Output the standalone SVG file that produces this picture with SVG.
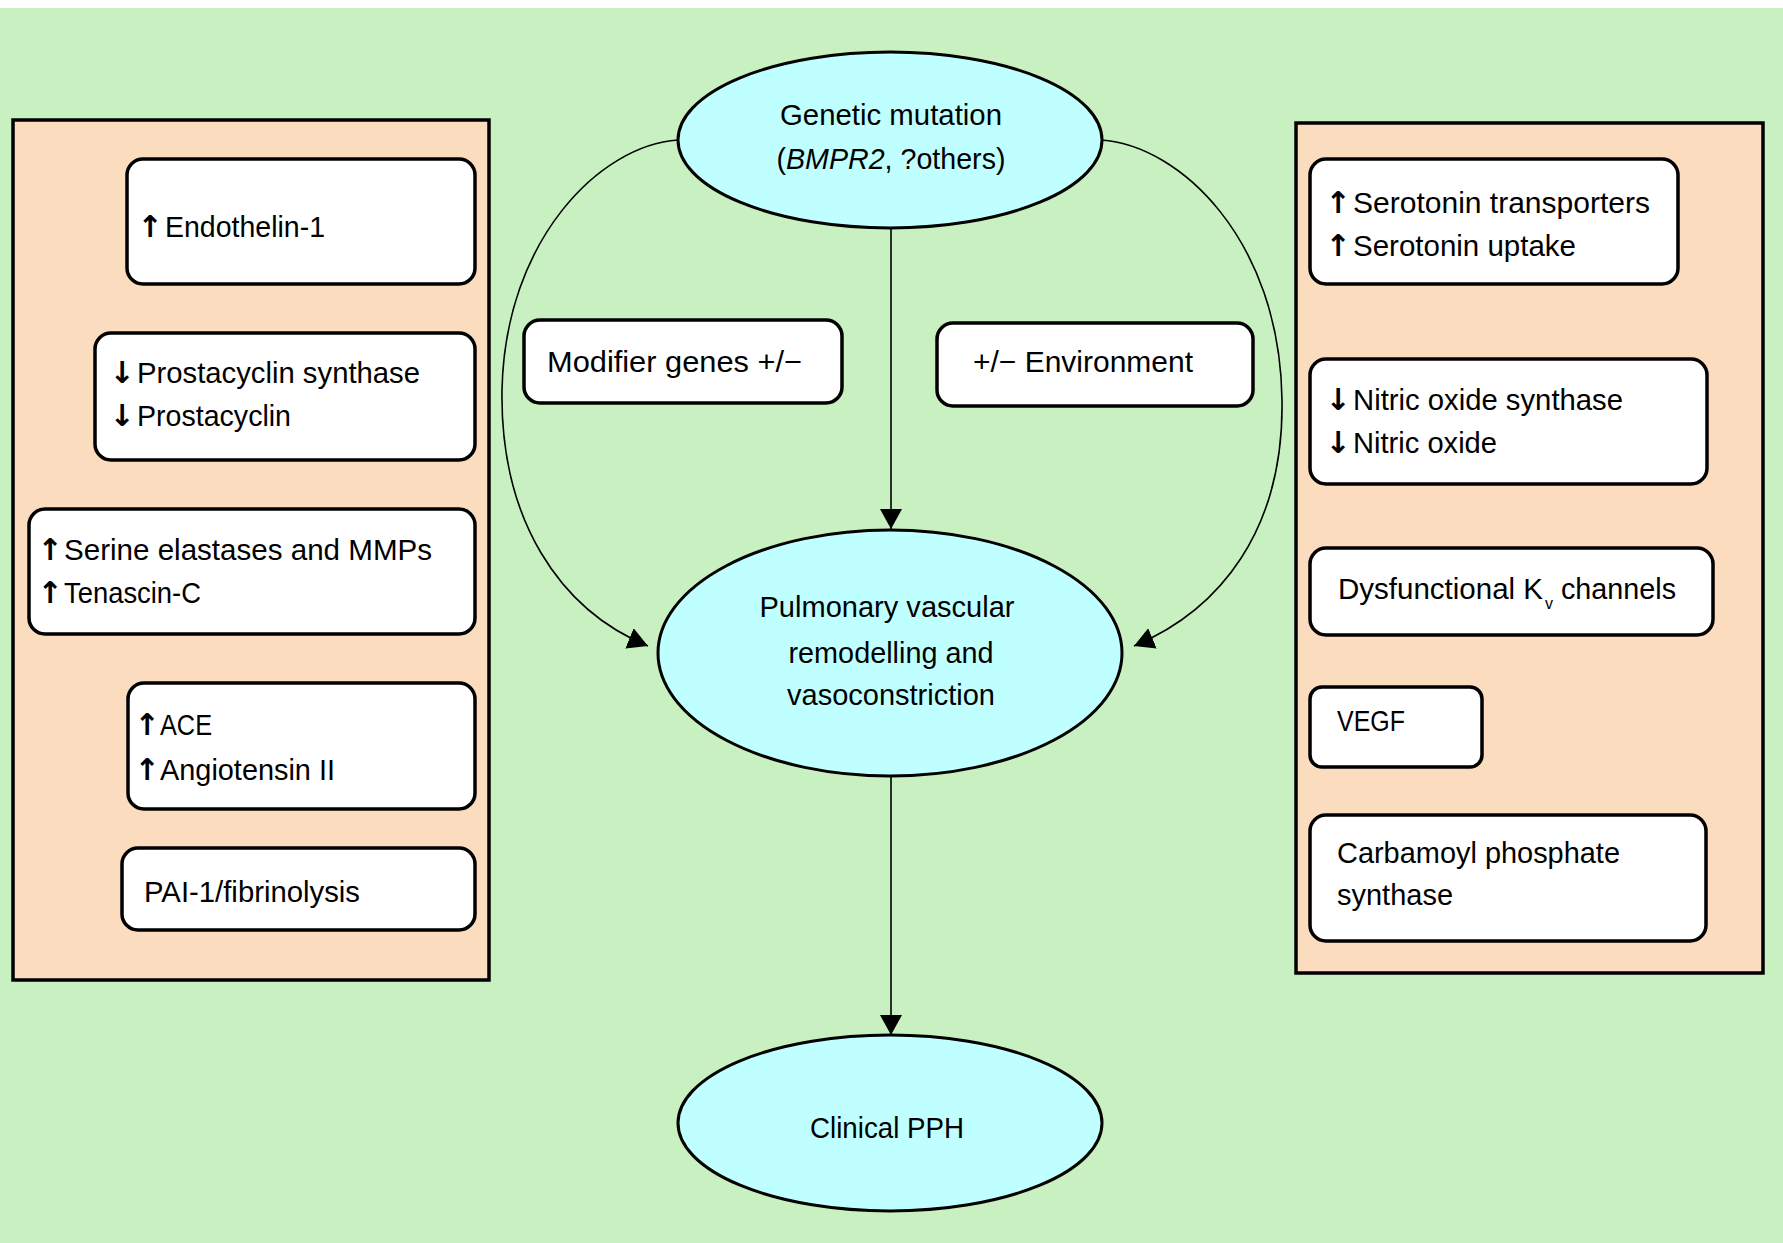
<svg xmlns="http://www.w3.org/2000/svg" width="1783" height="1243" viewBox="0 0 1783 1243">
<style>
.bg{fill:#c8f0c0}
.panel{fill:#fcdcbf;stroke:#000;stroke-width:3.5}
.box{fill:#fff;stroke:#000;stroke-width:3.5}
.ell{fill:#c0ffff;stroke:#000;stroke-width:3}
.conn{fill:none;stroke:#000;stroke-width:1.6}
text{font-family:"Liberation Sans",Arial,sans-serif;font-size:30px;fill:#000}
.mid{text-anchor:middle}
.arr{font-family:"DejaVu Sans","Liberation Sans",sans-serif;font-size:30px;font-weight:bold;text-anchor:middle}
</style>
<defs>
<marker id="ah" markerUnits="userSpaceOnUse" markerWidth="24" markerHeight="24" refX="20" refY="11" orient="auto" viewBox="0 0 24 24">
<path d="M0,0 L20,11 L0,22 Z" fill="#000"/>
</marker>
</defs>
<rect x="0" y="0" width="1783" height="1243" fill="#fff"/>
<rect class="bg" x="0" y="8" width="1783" height="1235"/>

<g id="left-panel">
<rect class="panel" x="13" y="120" width="476" height="860"/>
</g>
<g id="right-panel">
<rect class="panel" x="1296" y="123" width="467" height="850"/>
</g>

<g id="connectors">
<path class="conn" d="M678,140 C600,145 505,240 502,390 C500,520 560,610 648,646" marker-end="url(#ah)"/>
<path class="conn" d="M1101,140 C1180,145 1280,240 1282,400 C1284,530 1220,610 1134,646" marker-end="url(#ah)"/>
<line class="conn" x1="891" y1="228" x2="891" y2="529" marker-end="url(#ah)"/>
<line class="conn" x1="891" y1="776" x2="891" y2="1035" marker-end="url(#ah)"/>
</g>

<g id="genetic-mutation">
<ellipse class="ell" cx="890" cy="140" rx="212" ry="88"/>
<text class="mid" x="891" y="125" textLength="222" lengthAdjust="spacingAndGlyphs">Genetic mutation</text>
<text class="mid" x="891" y="169" textLength="229" lengthAdjust="spacingAndGlyphs">(<tspan font-style="italic">BMPR2</tspan>, ?others)</text>
</g>

<g id="modifier-genes">
<rect class="box" x="524" y="320" width="318" height="83" rx="16"/>
<text x="547" y="372" textLength="255" lengthAdjust="spacingAndGlyphs">Modifier genes +/−</text>
</g>

<g id="environment">
<rect class="box" x="937" y="323" width="316" height="83" rx="16"/>
<text x="973" y="372" textLength="220" lengthAdjust="spacingAndGlyphs">+/− Environment</text>
</g>

<g id="pulmonary">
<ellipse class="ell" cx="890" cy="653" rx="232" ry="123"/>
<text class="mid" x="887" y="617" textLength="255" lengthAdjust="spacingAndGlyphs">Pulmonary vascular</text>
<text class="mid" x="891" y="663" textLength="205" lengthAdjust="spacingAndGlyphs">remodelling and</text>
<text class="mid" x="891" y="705" textLength="208" lengthAdjust="spacingAndGlyphs">vasoconstriction</text>
</g>

<g id="clinical-pph">
<ellipse class="ell" cx="890" cy="1123" rx="212" ry="88"/>
<text class="mid" x="887" y="1138" textLength="154" lengthAdjust="spacingAndGlyphs">Clinical PPH</text>
</g>

<g id="endothelin">
<rect class="box" x="127" y="159" width="348" height="125" rx="16"/>
<text class="arr" x="150" y="237">↑</text>
<text x="165" y="237" textLength="160" lengthAdjust="spacingAndGlyphs">Endothelin-1</text>
</g>

<g id="prostacyclin">
<rect class="box" x="95" y="333" width="380" height="127" rx="16"/>
<text class="arr" x="122" y="383">↓</text>
<text x="137" y="383" textLength="283" lengthAdjust="spacingAndGlyphs">Prostacyclin synthase</text>
<text class="arr" x="122" y="426">↓</text>
<text x="137" y="426" textLength="154" lengthAdjust="spacingAndGlyphs">Prostacyclin</text>
</g>

<g id="serine">
<rect class="box" x="29" y="509" width="446" height="125" rx="16"/>
<text class="arr" x="50" y="560">↑</text>
<text x="64" y="560" textLength="368" lengthAdjust="spacingAndGlyphs">Serine elastases and MMPs</text>
<text class="arr" x="50" y="603">↑</text>
<text x="64" y="603" textLength="137" lengthAdjust="spacingAndGlyphs">Tenascin-C</text>
</g>

<g id="ace">
<rect class="box" x="128" y="683" width="347" height="126" rx="16"/>
<text class="arr" x="147" y="735">↑</text>
<text x="160" y="735" textLength="52" lengthAdjust="spacingAndGlyphs">ACE</text>
<text class="arr" x="147" y="780">↑</text>
<text x="160" y="780" textLength="175" lengthAdjust="spacingAndGlyphs">Angiotensin II</text>
</g>

<g id="pai">
<rect class="box" x="122" y="848" width="353" height="82" rx="16"/>
<text x="144" y="902" textLength="216" lengthAdjust="spacingAndGlyphs">PAI-1/fibrinolysis</text>
</g>

<g id="serotonin">
<rect class="box" x="1310" y="159" width="368" height="125" rx="16"/>
<text class="arr" x="1338" y="213">↑</text>
<text x="1353" y="213" textLength="297" lengthAdjust="spacingAndGlyphs">Serotonin transporters</text>
<text class="arr" x="1338" y="256">↑</text>
<text x="1353" y="256" textLength="223" lengthAdjust="spacingAndGlyphs">Serotonin uptake</text>
</g>

<g id="nitric-oxide">
<rect class="box" x="1310" y="359" width="397" height="125" rx="16"/>
<text class="arr" x="1338" y="410">↓</text>
<text x="1353" y="410" textLength="270" lengthAdjust="spacingAndGlyphs">Nitric oxide synthase</text>
<text class="arr" x="1338" y="453">↓</text>
<text x="1353" y="453" textLength="144" lengthAdjust="spacingAndGlyphs">Nitric oxide</text>
</g>

<g id="kv-channels">
<rect class="box" x="1310" y="548" width="403" height="87" rx="16"/>
<text x="1338" y="599" textLength="205" lengthAdjust="spacingAndGlyphs">Dysfunctional K</text>
<text x="1545" y="609" style="font-size:16px">v</text>
<text x="1561" y="599" textLength="115" lengthAdjust="spacingAndGlyphs">channels</text>
</g>

<g id="vegf">
<rect class="box" x="1310" y="687" width="172" height="80" rx="12"/>
<text x="1337" y="731" textLength="68" lengthAdjust="spacingAndGlyphs">VEGF</text>
</g>

<g id="carbamoyl">
<rect class="box" x="1310" y="815" width="396" height="126" rx="16"/>
<text x="1337" y="863" textLength="283" lengthAdjust="spacingAndGlyphs">Carbamoyl phosphate</text>
<text x="1337" y="905" textLength="116" lengthAdjust="spacingAndGlyphs">synthase</text>
</g>
</svg>
